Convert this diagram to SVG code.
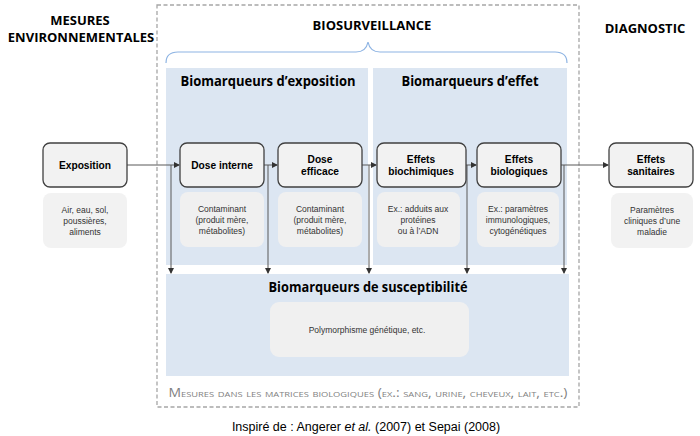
<svg xmlns="http://www.w3.org/2000/svg" width="700" height="436" viewBox="0 0 700 436">
<style>
.hdr{font-family:"Open Sans","Liberation Sans",sans-serif;font-weight:bold;font-size:13px;fill:#000;text-anchor:middle}
.ptitle{font-family:"Open Sans","Liberation Sans",sans-serif;font-weight:bold;font-size:13.5px;fill:#000;text-anchor:middle}
.node{fill:#f2f2f2;stroke:#404040;stroke-width:1.3}
.sub{fill:#f2f2f2;stroke:none}
.subb{fill:#f0f0f0;stroke:none}
.nt{font-family:"Liberation Sans",Arial,sans-serif;font-weight:bold;font-size:10.2px;fill:#000;text-anchor:middle}
.st{font-family:"Liberation Sans",Arial,sans-serif;font-size:8.5px;fill:#333;text-anchor:middle}
.panel{fill:#dce6f2}
.conn{stroke:#595959;stroke-width:1;fill:none}
</style>
<defs>
<marker id="ah" markerWidth="6" markerHeight="6" refX="5" refY="3" orient="auto" markerUnits="userSpaceOnUse">
<path d="M0,0 L6,3 L0,6 Z" fill="#333"/>
</marker>
</defs>
<rect width="700" height="436" fill="#fff"/>
<rect x="157" y="5" width="422" height="402" fill="none" stroke="#a6a6a6" stroke-width="1.3" stroke-dasharray="4,2.5"/>
<text class="hdr" x="80" y="25">MESURES</text>
<text class="hdr" x="81" y="42">ENVIRONNEMENTALES</text>
<text class="hdr" x="372" y="30">BIOSURVEILLANCE</text>
<text class="hdr" x="645" y="33">DIAGNOSTIC</text>
<path d="M166,63 Q166,52 178,52 L356,52 Q366,52 368,42 Q370,52 380,52 L555,52 Q567,52 567,63" fill="none" stroke="#8eb4e3" stroke-width="1.2"/>
<g id="panel-exposition">
<rect class="panel" x="166" y="68" width="202" height="197"/>
<text class="ptitle" x="268" y="86" textLength="175" lengthAdjust="spacingAndGlyphs">Biomarqueurs d’exposition</text>
</g>
<g id="panel-effet">
<rect class="panel" x="373" y="68" width="194" height="197"/>
<text class="ptitle" x="470" y="86" textLength="137" lengthAdjust="spacingAndGlyphs">Biomarqueurs d’effet</text>
</g>
<g id="panel-susceptibilite">
<rect class="panel" x="166" y="274" width="403" height="102"/>
<text class="ptitle" x="368" y="292" textLength="199" lengthAdjust="spacingAndGlyphs">Biomarqueurs de susceptibilité</text>
<rect class="subb" x="270" y="302" width="199" height="55" rx="9"/>
<text class="st" x="367" y="333" font-size="8.9px">Polymorphisme génétique, etc.</text>
</g>
<g id="connectors">
<line class="conn" x1="127" y1="165" x2="179" y2="165" marker-end="url(#ah)"/>
<line class="conn" x1="264" y1="165" x2="277" y2="165" marker-end="url(#ah)"/>
<line class="conn" x1="362" y1="165" x2="376" y2="165" marker-end="url(#ah)"/>
<line class="conn" x1="466" y1="165" x2="476" y2="165" marker-end="url(#ah)"/>
<line class="conn" x1="561" y1="165" x2="608" y2="165" marker-end="url(#ah)"/>
<line class="conn" x1="171" y1="165" x2="171" y2="273" marker-end="url(#ah)"/>
<line class="conn" x1="268" y1="165" x2="268" y2="273" marker-end="url(#ah)"/>
<line class="conn" x1="369" y1="165" x2="369" y2="273" marker-end="url(#ah)"/>
<line class="conn" x1="467" y1="165" x2="467" y2="273" marker-end="url(#ah)"/>
<line class="conn" x1="564" y1="165" x2="564" y2="273" marker-end="url(#ah)"/>
</g>
<g id="node-exposition">
<rect class="node" x="43" y="143" width="84" height="44" rx="7"/>
<text class="nt" x="85" y="169">Exposition</text>
<rect class="sub" x="43" y="193" width="84" height="55" rx="8"/>
<text class="st" x="85" y="213">Air, eau, sol,</text>
<text class="st" x="85" y="224">poussières,</text>
<text class="st" x="85" y="235">aliments</text>
</g>
<g id="node-dose-interne">
<rect class="node" x="180" y="143" width="84" height="44" rx="7"/>
<text class="nt" x="222" y="169">Dose interne</text>
<rect class="subb" x="180" y="192" width="84" height="55" rx="8"/>
<text class="st" x="222" y="212">Contaminant</text>
<text class="st" x="222" y="223">(produit mère,</text>
<text class="st" x="222" y="234">métabolites)</text>
</g>
<g id="node-dose-efficace">
<rect class="node" x="278" y="143" width="84" height="44" rx="7"/>
<text class="nt" x="320" y="163">Dose</text>
<text class="nt" x="320" y="175">efficace</text>
<rect class="subb" x="278" y="192" width="84" height="55" rx="8"/>
<text class="st" x="320" y="212">Contaminant</text>
<text class="st" x="320" y="223">(produit mère,</text>
<text class="st" x="320" y="234">métabolites)</text>
</g>
<g id="node-effets-biochimiques">
<rect class="node" x="377" y="143" width="89" height="44" rx="7"/>
<text class="nt" x="421" y="163">Effets</text>
<text class="nt" x="421" y="175">biochimiques</text>
<rect class="subb" x="377" y="192" width="83" height="55" rx="8"/>
<text class="st" x="418" y="212">Ex.: adduits aux</text>
<text class="st" x="418" y="223">protéines</text>
<text class="st" x="418" y="234">ou à l’ADN</text>
</g>
<g id="node-effets-biologiques">
<rect class="node" x="477" y="143" width="84" height="44" rx="7"/>
<text class="nt" x="519" y="163">Effets</text>
<text class="nt" x="519" y="175">biologiques</text>
<rect class="subb" x="477" y="192" width="82" height="55" rx="8"/>
<text class="st" x="518" y="212">Ex.: paramètres</text>
<text class="st" x="518" y="223">immunologiques,</text>
<text class="st" x="518" y="234">cytogénétiques</text>
</g>
<g id="node-effets-sanitaires">
<rect class="node" x="609" y="143" width="84" height="44" rx="7"/>
<text class="nt" x="651" y="163">Effets</text>
<text class="nt" x="651" y="175">sanitaires</text>
<rect class="sub" x="611" y="193" width="82" height="55" rx="8"/>
<text class="st" x="652" y="213">Paramètres</text>
<text class="st" x="652" y="224">cliniques d’une</text>
<text class="st" x="652" y="235">maladie</text>
</g>
<text x="368" y="397" font-family="Open Sans,Liberation Sans,sans-serif" font-size="12px" font-variant="small-caps" fill="#7f7f7f" text-anchor="middle" textLength="399" lengthAdjust="spacingAndGlyphs">Mesures dans les matrices biologiques (ex.: sang, urine, cheveux, lait, etc.)</text>
<text x="366" y="431" font-family="Liberation Sans,Arial,sans-serif" font-size="12.5px" fill="#000" text-anchor="middle">Inspiré de : Angerer <tspan font-style="italic">et al.</tspan> (2007) et Sepai (2008)</text>
</svg>
